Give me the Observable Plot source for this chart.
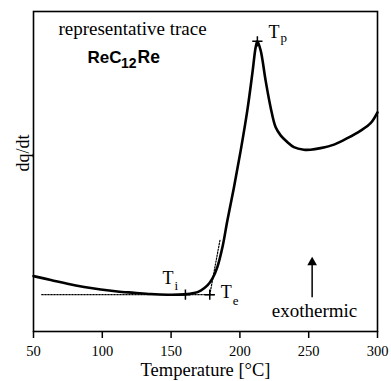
<!DOCTYPE html>
<html><head><meta charset="utf-8">
<script src="https://cdn.jsdelivr.net/npm/d3@7"></script>
<script src="https://cdn.jsdelivr.net/npm/@observablehq/plot@0.6"></script>
<style>body{margin:0;background:#fff}#chart svg{display:block}</style>
</head><body><div id="chart"></div>
<script>
// DSC trace (temperature in °C, heat flow in arbitrary units 0-100)
const temperature = [50, 62.6, 74.7, 86.8, 98.9, 111.0, 123.1, 135.2, 147.4, 159.5, 166.7, 171.5, 176.4, 180.0, 183.6, 187.3, 190.9, 195.7, 200.6, 205.4, 209.0, 211.5, 212.7, 215.1, 218.7, 222.3, 226.0, 229.6, 234.4, 239.2, 246.5, 251.3, 258.6, 268.4, 278.1, 287.8, 295.0, 300];
const heatFlow    = [17.3, 16.1, 14.9, 13.9, 13.1, 12.5, 12.1, 11.7, 11.5, 11.6, 12.0, 12.8, 14.4, 16.5, 20.1, 26.3, 34.7, 45.1, 56.6, 69.1, 80.5, 88.9, 90.7, 87.8, 78.4, 70.1, 63.8, 61.3, 59.2, 57.6, 56.8, 56.8, 57.3, 58.4, 60.4, 62.8, 65.1, 68.5];
const xTicks = [50, 100, 150, 200, 250, 300];
const baselineT = [56, 181];
const baselineV = [11.5, 11.5];
const tangentT = [178.1, 185.5];
const tangentV = [11.5, 28.5];
const markerSub = ["i", "e", "p"];
const markerT = [160.4, 178.1, 212.7];
const markerV = [11.5, 11.5, 90.7];
const arrowT = [252.5, 252.5];
const arrowV = [10.7, 22.2];
const titleText = "representative trace";
const compoundParts = ["ReC", "12", "Re"];
const xLabel = "Temperature [°C]";
const yLabel = "dq/dt";
const noteText = "exothermic";

const curve = temperature.map((t, i) => ({t, v: heatFlow[i]}));
const baseline = baselineT.map((t, i) => ({t, v: baselineV[i]}));
const tangent = tangentT.map((t, i) => ({t, v: tangentV[i]}));
const markers = markerT.map((t, i) => ({t, v: markerV[i], sub: markerSub[i]}));
const m = k => [markers[k]];

const serif = "Liberation Serif, Times New Roman, serif";
const sans = "Liberation Sans, Arial, sans-serif";
const K = "#000";

const plot = Plot.plot({
  width: 391, height: 381,
  marginLeft: 33, marginRight: 14, marginTop: 11, marginBottom: 50,
  style: {fontFamily: serif, background: "#fff", color: "#000"},
  x: {domain: [50, 300]},
  y: {domain: [0, 100], axis: null},
  marks: [
    Plot.line(baseline, {x: "t", y: "v", stroke: K, strokeWidth: 1.2, strokeDasharray: "1.5,1.5"}),
    Plot.line(tangent, {x: "t", y: "v", stroke: K, strokeWidth: 1.2, strokeDasharray: "1.5,1.5"}),
    Plot.line(curve, {x: "t", y: "v", curve: "catmull-rom", stroke: K, strokeWidth: 2.6}),
    Plot.dot(markers, {x: "t", y: "v", symbol: "plus", r: 3.4, stroke: K, strokeWidth: 1.5}),
    // T_i
    Plot.text(m(0), {x: "t", y: "v", text: () => "T", fill: K, textAnchor: "end", lineAnchor: "bottom", dx: -12, dy: -11, fontSize: 18}),
    Plot.text(m(0), {x: "t", y: "v", text: "sub", fill: K, textAnchor: "start", lineAnchor: "bottom", dx: -11, dy: -5, fontSize: 13}),
    // T_e
    Plot.text(m(1), {x: "t", y: "v", text: () => "T", fill: K, textAnchor: "start", lineAnchor: "bottom", dx: 11, dy: 3, fontSize: 18}),
    Plot.text(m(1), {x: "t", y: "v", text: "sub", fill: K, textAnchor: "start", lineAnchor: "bottom", dx: 23, dy: 10, fontSize: 13}),
    // T_p
    Plot.text(m(2), {x: "t", y: "v", text: () => "T", fill: K, textAnchor: "start", lineAnchor: "bottom", dx: 11, dy: -3, fontSize: 18}),
    Plot.text(m(2), {x: "t", y: "v", text: "sub", fill: K, textAnchor: "start", lineAnchor: "bottom", dx: 23, dy: 1, fontSize: 13}),
    // exothermic arrow
    Plot.link([0], {x1: () => arrowT[0], y1: () => arrowV[0], x2: () => arrowT[1], y2: () => arrowV[1], stroke: K, strokeWidth: 1.5}),
    Plot.dot([0], {x: () => arrowT[1], y: () => arrowV[1], symbol: "triangle", r: 3.6, fill: K, stroke: "none", dy: 2}),
    Plot.text([noteText], {text: d => d, fill: K, frameAnchor: "bottom-left", textAnchor: "middle", dx: 281, dy: -15, lineAnchor: "bottom", fontSize: 19}),
    // titles
    Plot.text([titleText], {text: d => d, fill: K, frameAnchor: "top-left", textAnchor: "middle", dx: 99, dy: 23, lineAnchor: "bottom", fontSize: 19}),
    Plot.text([compoundParts[0]], {text: d => d, fill: K, frameAnchor: "top-left", dx: 54, dy: 51, textAnchor: "start", lineAnchor: "bottom", fontSize: 17, fontWeight: "bold", fontFamily: sans}),
    Plot.text([compoundParts[1]], {text: d => d, fill: K, frameAnchor: "top-left", dx: 87.5, dy: 56, textAnchor: "start", lineAnchor: "bottom", fontSize: 14, fontWeight: "bold", fontFamily: sans}),
    Plot.text([compoundParts[2]], {text: d => d, fill: K, frameAnchor: "top-left", dx: 104, dy: 51, textAnchor: "start", lineAnchor: "bottom", fontSize: 17.5, fontWeight: "bold", fontFamily: sans}),
    // axes
    Plot.frame({stroke: K, strokeWidth: 1.6}),
    Plot.axisX({ticks: xTicks, tickSize: 7, tickPadding: 7, tickFormat: d => String(d), fontSize: 14.5, strokeWidth: 1.5, label: null}),
    Plot.text([xLabel], {text: d => d, fill: K, frameAnchor: "bottom", dy: 44, lineAnchor: "bottom", fontSize: 18.5}),
    Plot.text([yLabel], {text: d => d, fill: K, frameAnchor: "left", dx: -10, rotate: -90, fontSize: 18})
  ]
});
document.getElementById("chart").appendChild(plot);
</script>
</body></html>
